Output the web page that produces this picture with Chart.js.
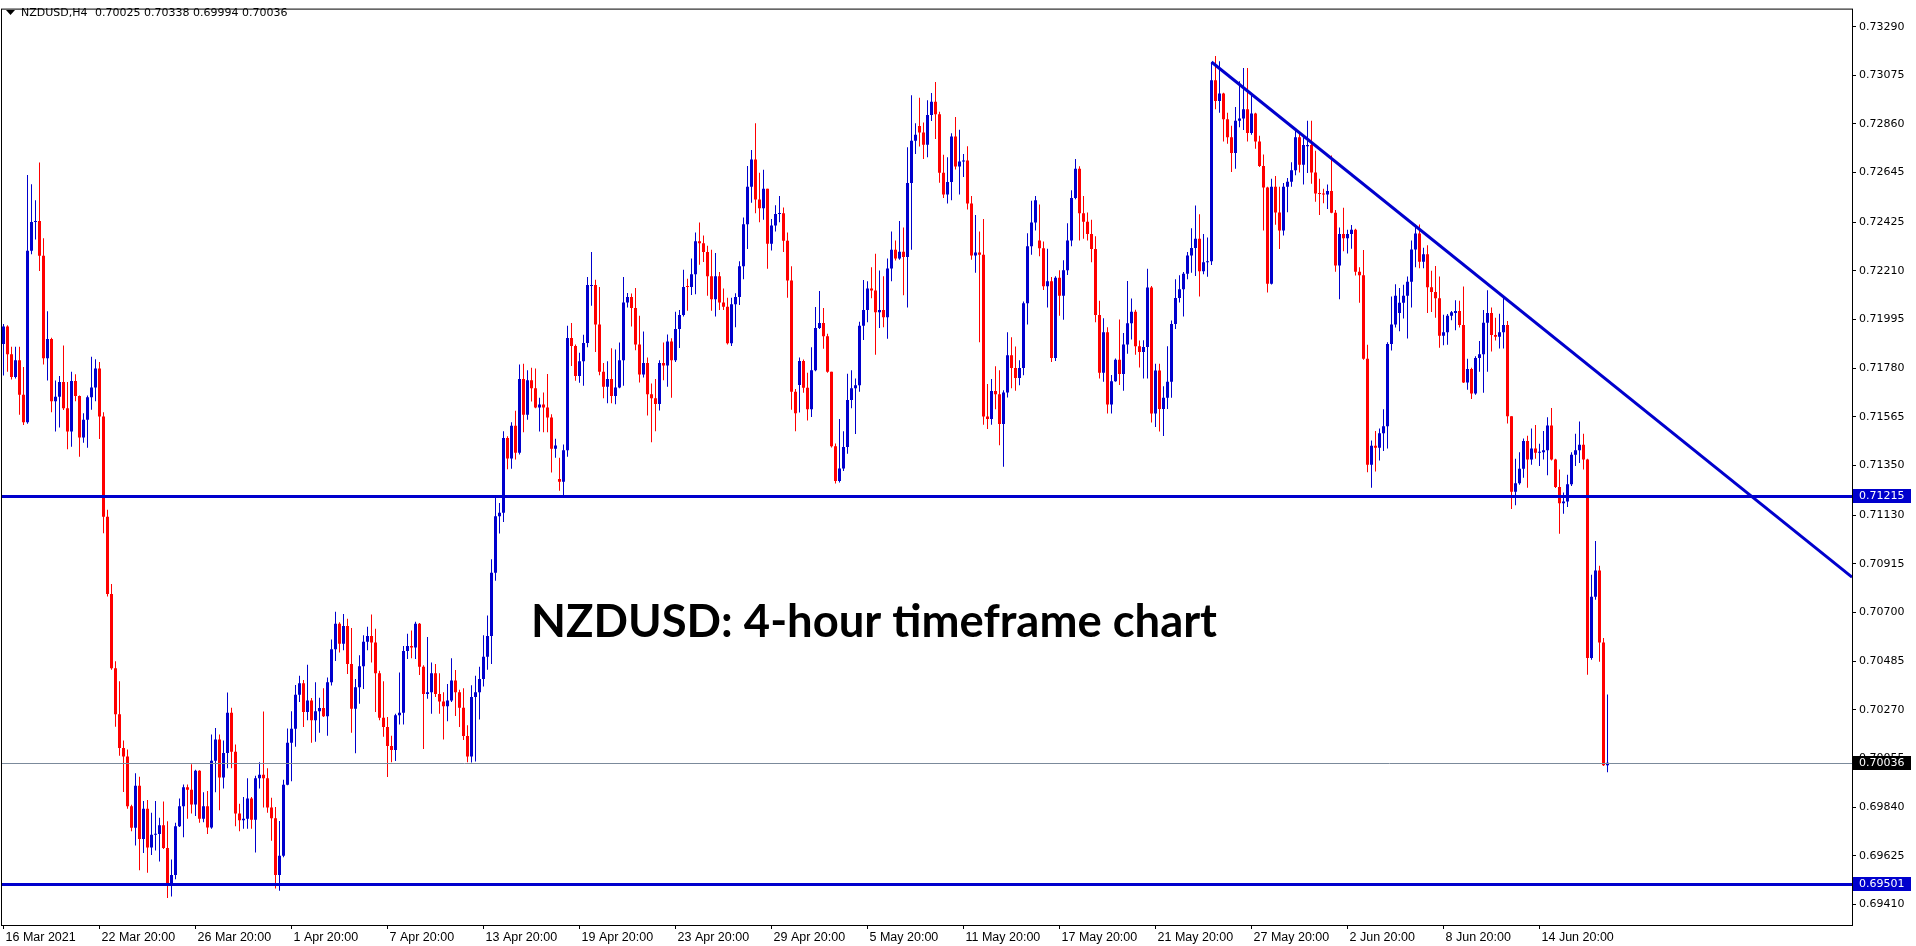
<!DOCTYPE html>
<html lang="en">
<head>
  <meta charset="UTF-8">
  <title>NZDUSD H4</title>
  <script src="https://cdn.jsdelivr.net/npm/chart.js"></script>
  <style>
    html, body { margin: 0; padding: 0; background: #fff; }
    #wrap { width: 1916px; height: 946px; position: relative; }
  </style>
</head>
<body>
  <div id="wrap"><canvas id="chart"></canvas></div>

  <script>
    const symbol = 'NZDUSD,H4';
    const titleText = 'NZDUSD: 4-hour timeframe chart';

    // 4-hour bars, 16 Mar 2021 20:00 .. 17 Jun 2021 16:00
    const open = [
      0.71887,0.71965,0.71842,0.71741,0.71815,0.71663,0.71541,0.72299,0.72427,0.72431,
      0.72277,0.71824,0.71909,0.71634,0.71654,0.71719,0.71603,0.71500,0.71724,0.71657,
      0.71474,0.71552,0.71652,0.71695,0.71779,0.71567,0.71123,0.70782,0.70454,0.70250,
      0.70101,0.70063,0.69844,0.69748,0.69934,0.69699,0.69833,0.69661,0.69717,0.69721,
      0.69759,0.69659,0.69492,0.69540,0.69755,0.69844,0.69927,0.69916,0.69851,0.70000,
      0.69788,0.69844,0.69750,0.70045,0.70139,0.69971,0.70079,0.70257,0.70085,0.69811,
      0.69782,0.69788,0.69878,0.69784,0.69967,0.69983,0.69967,0.69838,0.69790,0.69540,
      0.69625,0.69939,0.70124,0.70186,0.70336,0.70387,0.70260,0.70311,0.70224,0.70263,
      0.70278,0.70241,0.70392,0.70538,0.70650,0.70562,0.70640,0.70472,0.70275,0.70370,
      0.70462,0.70571,0.70596,0.70567,0.70432,0.70235,0.70194,0.70110,0.70092,0.70246,
      0.70257,0.70530,0.70552,0.70545,0.70650,0.70460,0.70340,0.70348,0.70431,0.70340,
      0.70307,0.70286,0.70311,0.70399,0.70348,0.70279,0.70154,0.70063,0.70326,0.70348,
      0.70406,0.70505,0.70596,0.70876,0.71126,0.71141,0.71472,0.71381,0.71526,0.71406,
      0.71732,0.71574,0.71727,0.71691,0.71606,0.71620,0.71606,0.71562,0.71424,0.71290,
      0.71278,0.71417,0.71914,0.71878,0.71746,0.71811,0.71892,0.72144,0.72148,0.71973,
      0.71764,0.71698,0.71732,0.71657,0.71695,0.71815,0.72071,0.72095,0.72046,0.71885,
      0.71752,0.71803,0.71665,0.71647,0.71622,0.71803,0.71792,0.71898,0.71815,0.71954,
      0.72015,0.72144,0.72139,0.72195,0.72341,0.72333,0.72294,0.72187,0.72085,0.72187,
      0.72071,0.72052,0.71891,0.72063,0.72095,0.72231,0.72417,0.72582,0.72703,0.72526,
      0.72487,0.72574,0.72330,0.72411,0.72462,0.72465,0.72344,0.72168,0.71676,0.71706,
      0.71812,0.71694,0.71599,0.71771,0.71958,0.71980,0.71921,0.71764,0.71435,0.71282,
      0.71337,0.71432,0.71640,0.71691,0.71705,0.71968,0.72038,0.72133,0.72124,0.72027,
      0.72038,0.72005,0.72221,0.72304,0.72265,0.72295,0.72272,0.72599,0.72786,0.72851,
      0.72822,0.72768,0.72900,0.72958,0.72903,0.72644,0.72548,0.72603,0.72805,0.72672,
      0.72694,0.72698,0.72508,0.72278,0.72292,0.72282,0.71567,0.71556,0.71679,0.71665,
      0.71533,0.71673,0.71837,0.71781,0.71737,0.71781,0.72067,0.72319,0.72424,0.72345,
      0.72311,0.72143,0.72165,0.71825,0.72180,0.72100,0.72213,0.72345,0.72533,0.72662,
      0.72465,0.72428,0.72373,0.72307,0.72015,0.71760,0.71939,0.71620,0.71723,0.71818,
      0.71754,0.71885,0.71979,0.72030,0.71877,0.71852,0.71874,0.72137,0.71580,0.71770,
      0.71600,0.71650,0.71720,0.71976,0.72090,0.72129,0.72198,0.72278,0.72312,0.72353,
      0.72209,0.72249,0.72253,0.73053,0.72961,0.72995,0.72881,0.72801,0.72732,0.72874,
      0.72884,0.72925,0.72820,0.72906,0.72783,0.72674,0.72579,0.72154,0.72582,0.72469,
      0.72389,0.72582,0.72604,0.72655,0.72801,0.72680,0.72761,0.72767,0.72645,0.72553,
      0.72550,0.72548,0.72564,0.72468,0.72234,0.72374,0.72355,0.72373,0.72392,0.72207,
      0.72191,0.71822,0.71353,0.71437,0.71429,0.71493,0.71523,0.71887,0.71973,0.72024,
      0.72070,0.72101,0.72162,0.72305,0.72376,0.72251,0.72284,0.72138,0.72117,0.72089,
      0.71924,0.71939,0.72012,0.72024,0.72033,0.71971,0.71717,0.71777,0.71668,0.71825,
      0.71842,0.71981,0.72024,0.71927,0.71919,0.71939,0.71971,0.71568,0.71234,0.71272,
      0.71336,0.71458,0.71377,0.71425,0.71406,0.71409,0.71417,0.71527,0.71377,0.71255,
      0.71183,0.71191,0.71267,0.71398,0.71417,0.71442,0.71377,0.70499,0.70770,0.70886,
      0.70567,0.70025
    ];
    const high = [
      0.71976,0.71970,0.71875,0.71875,0.71875,0.71786,0.72634,0.72594,0.72523,0.72690,
      0.72355,0.72032,0.71915,0.71726,0.71746,0.71880,0.71719,0.71764,0.71753,0.71660,
      0.71581,0.71659,0.71831,0.71820,0.71808,0.71585,0.71154,0.70826,0.70485,0.70396,
      0.70134,0.70094,0.69850,0.69989,0.69974,0.69867,0.69871,0.69815,0.69867,0.69793,
      0.69864,0.69777,0.69608,0.69771,0.69878,0.69940,0.69940,0.70029,0.70005,0.70003,
      0.69905,0.69911,0.70161,0.70190,0.70161,0.70134,0.70346,0.70279,0.70117,0.69855,
      0.69884,0.69967,0.69884,0.69978,0.70038,0.70262,0.70012,0.69881,0.69840,0.69778,
      0.69961,0.70187,0.70263,0.70380,0.70421,0.70402,0.70469,0.70322,0.70392,0.70323,
      0.70365,0.70413,0.70581,0.70703,0.70657,0.70694,0.70672,0.70632,0.70406,0.70511,
      0.70599,0.70637,0.70691,0.70628,0.70443,0.70396,0.70238,0.70155,0.70253,0.70435,
      0.70552,0.70606,0.70621,0.70659,0.70654,0.70467,0.70592,0.70479,0.70472,0.70431,
      0.70348,0.70384,0.70498,0.70446,0.70359,0.70365,0.70202,0.70379,0.70421,0.70460,
      0.70599,0.70687,0.70936,0.71209,0.71184,0.71501,0.71479,0.71541,0.71592,0.71796,
      0.71800,0.71771,0.71782,0.71779,0.71650,0.71673,0.71754,0.71577,0.71468,0.71384,
      0.71443,0.71968,0.71980,0.71885,0.71849,0.71928,0.72183,0.72294,0.72171,0.72139,
      0.71803,0.71811,0.71868,0.71863,0.71894,0.72183,0.72113,0.72110,0.72135,0.72012,
      0.71942,0.71827,0.71713,0.71732,0.71815,0.71894,0.71929,0.71913,0.72030,0.72037,
      0.72215,0.72176,0.72265,0.72380,0.72424,0.72367,0.72322,0.72304,0.72290,0.72205,
      0.72132,0.72092,0.72092,0.72111,0.72253,0.72446,0.72674,0.72745,0.72863,0.72644,
      0.72658,0.72574,0.72440,0.72501,0.72542,0.72491,0.72380,0.72231,0.71688,0.71827,
      0.71819,0.71760,0.71873,0.72051,0.72121,0.72046,0.71932,0.71764,0.71447,0.71556,
      0.71501,0.71756,0.71771,0.71735,0.71986,0.72170,0.72165,0.72227,0.72286,0.72212,
      0.72187,0.72265,0.72384,0.72345,0.72431,0.72402,0.72757,0.72987,0.72863,0.72976,
      0.72866,0.72965,0.72997,0.73046,0.72914,0.72724,0.72713,0.72819,0.72891,0.72834,
      0.72727,0.72761,0.72541,0.72457,0.72384,0.72440,0.71710,0.71732,0.71789,0.71771,
      0.71683,0.71939,0.71917,0.71876,0.71815,0.72075,0.72377,0.72520,0.72542,0.72504,
      0.72340,0.72308,0.72183,0.72187,0.72213,0.72257,0.72421,0.72567,0.72705,0.72673,
      0.72542,0.72469,0.72436,0.72363,0.72078,0.72001,0.71961,0.71750,0.71823,0.71995,
      0.71936,0.72166,0.72088,0.72039,0.71903,0.71904,0.72220,0.72144,0.71800,0.71800,
      0.71700,0.71877,0.71991,0.72173,0.72191,0.72205,0.72294,0.72399,0.72499,0.72461,
      0.72373,0.72358,0.73134,0.73161,0.73137,0.72998,0.72910,0.72852,0.72935,0.73049,
      0.73107,0.73107,0.72995,0.72910,0.72808,0.72725,0.72582,0.72618,0.72630,0.72582,
      0.72599,0.72621,0.72691,0.72834,0.72823,0.72801,0.72874,0.72874,0.72742,0.72618,
      0.72574,0.72592,0.72721,0.72480,0.72402,0.72490,0.72392,0.72413,0.72397,0.72227,
      0.72303,0.71884,0.71461,0.71503,0.71514,0.71599,0.71895,0.72097,0.72151,0.72135,
      0.72149,0.72186,0.72345,0.72416,0.72416,0.72313,0.72324,0.72211,0.72232,0.72186,
      0.72016,0.72020,0.72033,0.72081,0.72078,0.72141,0.71822,0.71782,0.71833,0.71900,
      0.72037,0.72125,0.72049,0.72003,0.72021,0.72092,0.71989,0.71568,0.71380,0.71409,
      0.71469,0.71482,0.71514,0.71529,0.71446,0.71502,0.71563,0.71604,0.71380,0.71332,
      0.71231,0.71309,0.71409,0.71490,0.71544,0.71490,0.71380,0.70867,0.71016,0.70907,
      0.70587,0.70338
    ];
    const low = [
      0.71748,0.71764,0.71730,0.71735,0.71574,0.71529,0.71535,0.72284,0.72349,0.72210,
      0.71797,0.71726,0.71585,0.71500,0.71518,0.71595,0.71422,0.71433,0.71634,0.71389,
      0.71451,0.71429,0.71596,0.71634,0.71467,0.71050,0.70771,0.70447,0.70195,0.70067,
      0.69907,0.69833,0.69733,0.69670,0.69561,0.69637,0.69550,0.69628,0.69648,0.69599,
      0.69655,0.69438,0.69445,0.69521,0.69752,0.69706,0.69788,0.69811,0.69800,0.69771,
      0.69773,0.69721,0.69744,0.69905,0.69826,0.69922,0.70012,0.70012,0.69755,0.69733,
      0.69744,0.69744,0.69744,0.69639,0.69922,0.69838,0.69815,0.69691,0.69480,0.69470,
      0.69618,0.69936,0.69954,0.70107,0.70304,0.70194,0.70224,0.70124,0.70129,0.70168,
      0.70238,0.70155,0.70377,0.70486,0.70523,0.70533,0.70428,0.70168,0.70078,0.70297,
      0.70362,0.70533,0.70479,0.70260,0.70224,0.70151,0.69973,0.70038,0.70044,0.70205,
      0.70205,0.70494,0.70498,0.70494,0.70424,0.70097,0.70319,0.70253,0.70326,0.70253,
      0.70139,0.70219,0.70304,0.70243,0.70194,0.70136,0.70038,0.70037,0.70041,0.70227,
      0.70373,0.70447,0.70472,0.70840,0.71049,0.71100,0.71333,0.71336,0.71377,0.71399,
      0.71497,0.71552,0.71633,0.71603,0.71500,0.71497,0.71497,0.71319,0.71384,0.71238,
      0.71216,0.71389,0.71790,0.71725,0.71716,0.71703,0.71873,0.72056,0.71852,0.71749,
      0.71647,0.71625,0.71625,0.71621,0.71691,0.71703,0.72049,0.71965,0.71859,0.71717,
      0.71739,0.71571,0.71453,0.71501,0.71593,0.71727,0.71698,0.71650,0.71808,0.71869,
      0.72009,0.72034,0.72104,0.72107,0.72238,0.72250,0.72100,0.72034,0.72009,0.72038,
      0.72037,0.71885,0.71878,0.71961,0.72060,0.72173,0.72307,0.72512,0.72465,0.72425,
      0.72436,0.72220,0.72300,0.72384,0.72425,0.72294,0.72092,0.71596,0.71501,0.71584,
      0.71672,0.71549,0.71564,0.71767,0.71953,0.71866,0.71760,0.71430,0.71270,0.71275,
      0.71326,0.71402,0.71603,0.71489,0.71676,0.71905,0.71983,0.72089,0.71840,0.71958,
      0.71961,0.71910,0.72165,0.72256,0.72260,0.72103,0.72048,0.72304,0.72727,0.72760,
      0.72705,0.72713,0.72873,0.72793,0.72600,0.72533,0.72508,0.72523,0.72659,0.72548,
      0.72625,0.72482,0.72260,0.72202,0.71895,0.71530,0.71511,0.71530,0.71599,0.71440,
      0.71345,0.71651,0.71691,0.71681,0.71705,0.71749,0.71973,0.72282,0.72389,0.72275,
      0.72126,0.72048,0.71808,0.71812,0.72012,0.71994,0.72192,0.72319,0.72527,0.72345,
      0.72353,0.72345,0.72249,0.71983,0.71735,0.71720,0.71580,0.71580,0.71720,0.71706,
      0.71680,0.71844,0.71907,0.71840,0.71783,0.71735,0.71735,0.71540,0.71520,0.71500,
      0.71480,0.71600,0.71650,0.71954,0.72071,0.72009,0.72173,0.72202,0.72188,0.72097,
      0.72195,0.72185,0.72236,0.72925,0.72910,0.72783,0.72772,0.72648,0.72662,0.72845,
      0.72833,0.72783,0.72812,0.72750,0.72670,0.72389,0.72115,0.72150,0.72414,0.72307,
      0.72367,0.72470,0.72582,0.72633,0.72645,0.72592,0.72643,0.72596,0.72516,0.72458,
      0.72509,0.72484,0.72465,0.72207,0.72085,0.72297,0.72287,0.72308,0.72190,0.72070,
      0.71817,0.71320,0.71252,0.71323,0.71372,0.71414,0.71425,0.71858,0.71960,0.71944,
      0.72000,0.71911,0.72049,0.72227,0.72222,0.72222,0.72024,0.72029,0.72003,0.71871,
      0.71882,0.71884,0.71992,0.71948,0.71960,0.71715,0.71685,0.71644,0.71663,0.71765,
      0.71672,0.71765,0.71854,0.71903,0.71867,0.71867,0.71536,0.71158,0.71174,0.71265,
      0.71296,0.71252,0.71353,0.71380,0.71348,0.71377,0.71307,0.71372,0.71251,0.71048,
      0.71137,0.71166,0.71259,0.71348,0.71361,0.71332,0.70425,0.70491,0.70757,0.70482,
      0.70022,0.69994
    ];
    const close = [
      0.71965,0.71842,0.71741,0.71815,0.71663,0.71541,0.72299,0.72427,0.72431,0.72277,
      0.71824,0.71909,0.71634,0.71654,0.71719,0.71603,0.71500,0.71724,0.71657,0.71474,
      0.71552,0.71652,0.71695,0.71779,0.71567,0.71123,0.70782,0.70454,0.70250,0.70101,
      0.70063,0.69844,0.69748,0.69934,0.69699,0.69833,0.69661,0.69717,0.69721,0.69759,
      0.69659,0.69492,0.69540,0.69755,0.69844,0.69927,0.69916,0.69851,0.70000,0.69788,
      0.69844,0.69750,0.70045,0.70139,0.69971,0.70079,0.70257,0.70085,0.69811,0.69782,
      0.69788,0.69878,0.69784,0.69967,0.69983,0.69967,0.69838,0.69790,0.69540,0.69625,
      0.69939,0.70124,0.70186,0.70336,0.70387,0.70260,0.70311,0.70224,0.70263,0.70278,
      0.70241,0.70392,0.70538,0.70650,0.70562,0.70640,0.70472,0.70275,0.70370,0.70462,
      0.70571,0.70596,0.70567,0.70432,0.70235,0.70194,0.70110,0.70092,0.70246,0.70257,
      0.70530,0.70552,0.70545,0.70650,0.70460,0.70340,0.70348,0.70431,0.70340,0.70307,
      0.70286,0.70311,0.70399,0.70348,0.70279,0.70154,0.70063,0.70326,0.70348,0.70406,
      0.70505,0.70596,0.70876,0.71126,0.71141,0.71472,0.71381,0.71526,0.71406,0.71732,
      0.71574,0.71727,0.71691,0.71606,0.71620,0.71606,0.71562,0.71424,0.71438,0.71278,
      0.71417,0.71914,0.71878,0.71746,0.71811,0.71892,0.72148,0.72148,0.71973,0.71764,
      0.71698,0.71732,0.71657,0.71695,0.71815,0.72071,0.72095,0.72046,0.71885,0.71752,
      0.71803,0.71665,0.71647,0.71622,0.71803,0.71792,0.71898,0.71815,0.71954,0.72015,
      0.72139,0.72139,0.72195,0.72341,0.72333,0.72294,0.72187,0.72085,0.72187,0.72071,
      0.72052,0.71891,0.72063,0.72095,0.72231,0.72417,0.72582,0.72703,0.72526,0.72487,
      0.72574,0.72330,0.72411,0.72462,0.72465,0.72344,0.72168,0.71676,0.71581,0.71812,
      0.71694,0.71599,0.71771,0.71958,0.71980,0.71921,0.71764,0.71435,0.71282,0.71337,
      0.71432,0.71640,0.71691,0.71705,0.71968,0.72038,0.72133,0.72124,0.72027,0.72038,
      0.72005,0.72221,0.72304,0.72265,0.72295,0.72272,0.72599,0.72786,0.72812,0.72822,
      0.72768,0.72900,0.72958,0.72903,0.72644,0.72548,0.72603,0.72805,0.72672,0.72694,
      0.72698,0.72508,0.72278,0.72292,0.72282,0.71567,0.71556,0.71679,0.71665,0.71533,
      0.71673,0.71837,0.71781,0.71737,0.71781,0.72067,0.72319,0.72424,0.72523,0.72311,
      0.72143,0.72165,0.71825,0.72180,0.72100,0.72213,0.72345,0.72533,0.72662,0.72465,
      0.72428,0.72373,0.72307,0.72015,0.71760,0.71939,0.71620,0.71723,0.71818,0.71754,
      0.71885,0.71979,0.72030,0.71877,0.71852,0.71874,0.72137,0.71580,0.71770,0.71600,
      0.71650,0.71720,0.71976,0.72090,0.72129,0.72198,0.72278,0.72312,0.72353,0.72209,
      0.72249,0.72253,0.73053,0.72961,0.72995,0.72881,0.72801,0.72732,0.72874,0.72884,
      0.72925,0.72820,0.72906,0.72783,0.72674,0.72579,0.72154,0.72582,0.72469,0.72389,
      0.72582,0.72604,0.72655,0.72801,0.72680,0.72767,0.72767,0.72645,0.72553,0.72550,
      0.72548,0.72564,0.72468,0.72234,0.72374,0.72355,0.72373,0.72392,0.72207,0.72191,
      0.71822,0.71353,0.71437,0.71429,0.71493,0.71523,0.71887,0.71973,0.72101,0.72070,
      0.72101,0.72162,0.72305,0.72376,0.72251,0.72284,0.72138,0.72117,0.72089,0.71924,
      0.71939,0.72012,0.72028,0.72033,0.71971,0.71717,0.71777,0.71668,0.71825,0.71842,
      0.71981,0.72024,0.71927,0.71919,0.71939,0.71971,0.71568,0.71234,0.71272,0.71336,
      0.71458,0.71377,0.71425,0.71406,0.71409,0.71417,0.71527,0.71377,0.71255,0.71183,
      0.71191,0.71267,0.71398,0.71417,0.71442,0.71377,0.70499,0.70770,0.70886,0.70567,
      0.70025,0.70036
    ];

    // x axis labels sit on these bars
    const xTickBars = [0, 24, 48, 72, 96, 120, 144, 168, 192, 216, 240, 264, 288, 312, 336, 360, 384];
    const xTickLabels = ['16 Mar 2021', '22 Mar 20:00', '26 Mar 20:00', '1 Apr 20:00', '7 Apr 20:00',
      '13 Apr 20:00', '19 Apr 20:00', '23 Apr 20:00', '29 Apr 20:00', '5 May 20:00', '11 May 20:00',
      '17 May 20:00', '21 May 20:00', '27 May 20:00', '2 Jun 20:00', '8 Jun 20:00', '14 Jun 20:00'];
    const yTickValues = [0.73290, 0.73075, 0.72860, 0.72645, 0.72425, 0.72210, 0.71995, 0.71780, 0.71565,
      0.71350, 0.71130, 0.70915, 0.70700, 0.70485, 0.70270, 0.70055, 0.69840, 0.69625, 0.69410];

    // drawn objects: horizontal levels and the falling trend line (bar index, price)
    const levels = [0.71215, 0.69501];
    const trendFrom = { bar: 302, price: 0.73134 };
    const trendTo = { bar: 436.9, price: 0.71215 };

    const BLUE = '#0000cd';
    const RED = '#ff0000';
    const X_MIN = -0.375, X_MAX = 462.125;
    const Y_MIN = 0.693185, Y_MAX = 0.733656;
    const last = close.length - 1;

    const colors = close.map((c, i) => c >= open[i] ? BLUE : RED);
    const wicks = close.map((c, i) => ({ x: i, y: [low[i], high[i]] }));
    const bodies = close.map((c, i) => ({ x: i, y: [open[i], c] }));

    const slope = (trendTo.price - trendFrom.price) / (trendTo.bar - trendFrom.bar);
    const trendLine = [
      { x: trendFrom.bar, y: trendFrom.price },
      { x: X_MAX, y: trendFrom.price + slope * (X_MAX - trendFrom.bar) }
    ];

    const overlay = {
      id: 'overlay',
      afterDatasetsDraw(chart) {
        const { ctx, chartArea: a, scales: { y } } = chart;
        ctx.save();

        // bid line
        const by = Math.round(y.getPixelForValue(close[last])) + 0.5;
        ctx.strokeStyle = '#7b8a9b';
        ctx.lineWidth = 1;
        ctx.beginPath(); ctx.moveTo(a.left, by); ctx.lineTo(a.right, by); ctx.stroke();

        // horizontal levels
        ctx.strokeStyle = BLUE;
        ctx.lineWidth = 3;
        levels.forEach(v => {
          const ly = Math.round(y.getPixelForValue(v)) + 0.5;
          ctx.beginPath(); ctx.moveTo(a.left, ly); ctx.lineTo(a.right, ly); ctx.stroke();
        });

        // frame
        ctx.strokeStyle = '#000';
        ctx.lineWidth = 1;
        ctx.strokeRect(a.left - 0.5, a.top - 0.5, a.width + 1, a.height + 1);

        // header
        ctx.fillStyle = '#000';
        ctx.beginPath(); ctx.moveTo(6, 10); ctx.lineTo(15, 10); ctx.lineTo(10.5, 15); ctx.closePath(); ctx.fill();
        ctx.font = '11px "DejaVu Sans"';
        ctx.textBaseline = 'middle';
        ctx.textAlign = 'left';
        ctx.fillText(symbol, 21, 13);
        ctx.fillText([open[last], high[last], low[last], close[last]].map(v => v.toFixed(5)).join(' '), 95, 13);

        // title
        ctx.font = 'bold 45px Lato, "Open Sans", sans-serif';
        ctx.textBaseline = 'alphabetic';
        const w = ctx.measureText(titleText).width;
        ctx.save();
        ctx.translate(531, 637);
        ctx.scale(686 / w, 1);
        ctx.fillText(titleText, 0, 0);
        ctx.restore();

        // price boxes on the right scale
        const box = (v, bg) => {
          const py = Math.round(y.getPixelForValue(v));
          ctx.fillStyle = bg;
          ctx.fillRect(a.right + 1, py - 7, 58, 14);
          ctx.fillStyle = '#fff';
          ctx.font = '11px "DejaVu Sans"';
          ctx.textBaseline = 'middle';
          ctx.fillText(v.toFixed(5), a.right + 7, py + 0.5);
        };
        levels.forEach(v => box(v, BLUE));
        box(close[last], '#000');

        ctx.restore();
      }
    };

    new Chart(document.getElementById('chart'), {
      type: 'bar',
      data: {
        datasets: [
          { type: 'line', data: trendLine, borderColor: BLUE, borderWidth: 3, pointRadius: 0, tension: 0, order: 0 },
          { data: bodies, backgroundColor: colors, barThickness: 3, minBarLength: 1, grouped: false, inflateAmount: 0, order: 1 },
          { data: wicks, backgroundColor: colors, barThickness: 1, grouped: false, inflateAmount: 0, order: 2 }
        ]
      },
      options: {
        responsive: true,
        maintainAspectRatio: false,
        devicePixelRatio: 1,
        animation: false,
        events: [],
        layout: { padding: { left: 2, top: 1, right: 0, bottom: 0 } },
        plugins: { legend: { display: false }, tooltip: { enabled: false } },
        scales: {
          x: {
            type: 'linear',
            offset: false,
            min: X_MIN,
            max: X_MAX,
            afterBuildTicks: s => { s.ticks = xTickBars.map(v => ({ value: v })); },
            afterFit: s => { s.height = 21; },
            ticks: {
              autoSkip: false,
              maxRotation: 0,
              align: 'start',
              labelOffset: 2,
              padding: 1,
              color: '#000',
              font: { family: '"Liberation Sans Narrow", "Liberation Sans"', size: 12.5 },
              callback: (v, i) => xTickLabels[i]
            },
            grid: { offset: false, drawOnChartArea: false, tickLength: 4, color: '#000' },
            border: { display: false }
          },
          y: {
            position: 'right',
            min: Y_MIN,
            max: Y_MAX,
            afterBuildTicks: s => { s.ticks = yTickValues.map(v => ({ value: v })); },
            afterFit: s => { s.width = 64; },
            ticks: {
              padding: 3,
              color: '#000',
              font: { family: '"DejaVu Sans"', size: 11 },
              callback: v => v.toFixed(5)
            },
            grid: { drawOnChartArea: false, tickLength: 4, color: '#000' },
            border: { display: false }
          }
        }
      },
      plugins: [overlay]
    });
  </script>
</body>
</html>
